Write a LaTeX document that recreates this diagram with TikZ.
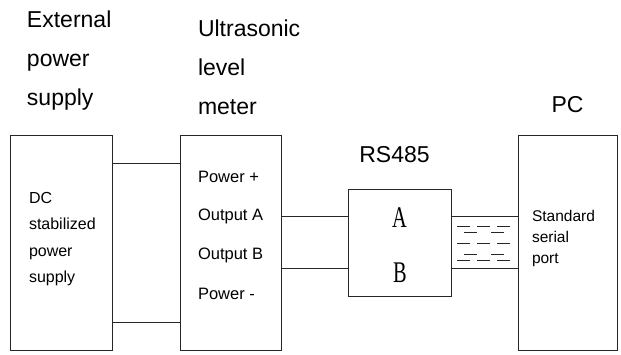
\documentclass[tikz,border=0pt]{standalone}
\usepackage{fontspec}
\setmainfont{Liberation Sans}
\newfontfamily\letterfont[FakeStretch=0.68]{Liberation Serif}
\usetikzlibrary{positioning}

\begin{document}
\begin{tikzpicture}[x=1pt, y=-1pt, line width=0.9pt, draw=black!85,
    every node/.style={inner sep=0pt, outer sep=0pt, text=black},
    unit/.style={draw, minimum width=#1, minimum height=215pt},
    title/.style={font=\fontsize{23}{39}\selectfont, align=left},
    body/.style={font=\fontsize{16}{26.5}\selectfont, align=left},
    port/.style={font=\fontsize{16.5}{16.5}\selectfont, anchor=west},
    letter/.style={font=\letterfont\fontsize{30}{30}\selectfont}]
  \useasboundingbox (0,0) rectangle (621,354);

  % Bloques
  \node[unit=102pt] (dc) at (61,242.5) {};
  \node[unit=101pt] (meter) at (230.5,242.5) {};
  \node[draw, minimum width=103pt, minimum height=107pt] (rs) at (399.5,242.5) {};
  \node[unit=99pt] (pc) at (567.5,242.5) {};

  % Titulos
  \node[title, anchor=north west] (dctitle) at (27,10.5) {External\\power\\supply};
  \node[title, anchor=north west] (metertitle) at (198,19.5) {Ultrasonic\\level\\meter};
  \node[title] (rstitle) at (394.5,155) {RS485};
  \node[title] (pctitle) at (567.5,104.5) {PC};

  % Textos
  \node[body, anchor=west] (dctext) at (29,239) {DC\\stabilized\\power\\supply};
  \node[port] (pplus) at (198,177) {Power +};
  \node[port] (outa) at (198,216) {Output A};
  \node[port] (outb) at (198,255) {Output B};
  \node[port] (pminus) at (198,294) {Power -};
  \node[letter] (la) at (399.5,217.5) {A};
  \node[letter] (lb) at (400,273) {B};
  \node[body, anchor=west, font=\fontsize{15.5}{21}\selectfont] (pctext) at (532,238) {Standard\\serial\\port};

  % Lineas
  \coordinate (ytop) at (0,163);
  \coordinate (ybot) at (0,322);
  \coordinate (ya) at (0,216);
  \coordinate (yb) at (0,268);
  \draw (dc.east |- ytop) -- (meter.west |- ytop);
  \draw (dc.east |- ybot) -- (meter.west |- ybot);
  \draw (meter.east |- ya) -- (rs.west |- ya);
  \draw (meter.east |- yb) -- (rs.west |- yb);
  \draw (rs.east |- ya) -- (pc.west |- ya);
  \draw (rs.east |- yb) -- (pc.west |- yb);

  % Cable
  \foreach \y in {226,243,260}
    \foreach \x in {457,477,497}
      \draw[line width=0.8pt] (\x,\y) -- ++(13,0);
  \foreach \y in {232,254}
    \foreach \x in {464,491}
      \draw[line width=0.8pt] (\x,\y) -- ++(13,0);
\end{tikzpicture}
\end{document}
